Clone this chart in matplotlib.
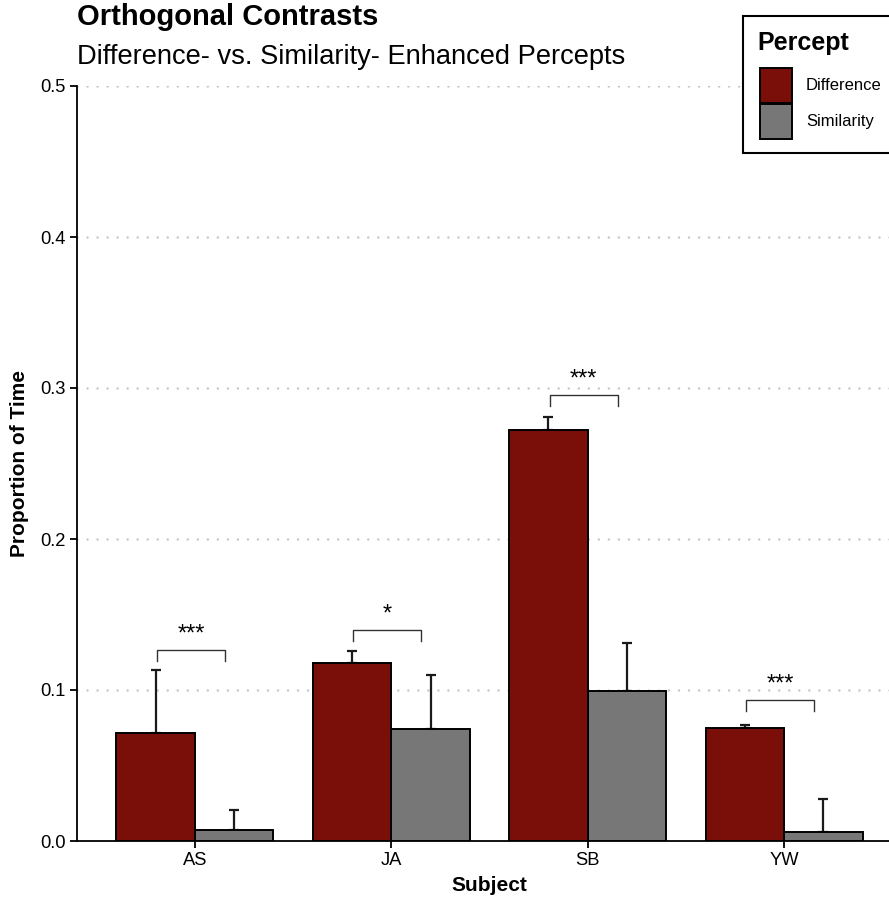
import matplotlib
matplotlib.use("Agg")
import matplotlib.pyplot as plt
from matplotlib.patches import Rectangle

plt.rcParams['font.family'] = ['Liberation Sans', 'DejaVu Sans']

# Data
subjects = ["AS", "JA", "SB", "YW"]
percepts = ["Difference", "Similarity"]
difference_mean = [0.0715, 0.118, 0.272, 0.0748]
difference_err = [0.0415, 0.008, 0.009, 0.002]
similarity_mean = [0.0073, 0.074, 0.0993, 0.006]
similarity_err = [0.0132, 0.036, 0.0317, 0.0218]
sig_labels = ["***", "*", "***", "***"]
sig_heights = [0.1265, 0.140, 0.2955, 0.0935]

colors = {"Difference": "#7a0f0a", "Similarity": "#777777"}

W, H = 889, 900
fig = plt.figure(figsize=(W / 100, H / 100), dpi=100)
ax = fig.add_axes([77 / W, 59 / H, 825 / W, 755 / H])


def fx(px):
    return px / W


def fy(py):
    return 1 - py / H


x = list(range(len(subjects)))
w = 0.4
xd = [i - w / 2 for i in x]
xs = [i + w / 2 for i in x]

# error bars (upper half only), drawn under the bars
for xp, m, e in zip(xd + xs, difference_mean + similarity_mean,
                    difference_err + similarity_err):
    ax.errorbar([xp], [m], yerr=[[0], [e]], fmt="none", ecolor="#1a1a1a",
                elinewidth=1.6, capsize=3.8, capthick=1.6, zorder=2)

ax.bar(xd, difference_mean, width=w, color=colors["Difference"],
       edgecolor="black", linewidth=1.4, zorder=3)
ax.bar(xs, similarity_mean, width=w, color=colors["Similarity"],
       edgecolor="black", linewidth=1.4, zorder=3)

# significance brackets
leg = 0.0073
for i, (lab, h) in enumerate(zip(sig_labels, sig_heights)):
    x0, x1 = i - 0.193, i + 0.153
    ax.plot([x0, x0, x1, x1], [h - leg, h, h, h - leg], color="#333333",
            lw=1.0, zorder=4, solid_joinstyle="round")
    ax.text((x0 + x1) / 2, h + 0.006, lab, ha="center", va="baseline",
            fontsize=17, color="black")

ax.set_xlim(-0.6, 3.6)
ax.set_ylim(0, 0.5)
ax.set_yticks([0.0, 0.1, 0.2, 0.3, 0.4, 0.5])
ax.set_yticklabels(["0.0", "0.1", "0.2", "0.3", "0.4", "0.5"])
ax.set_xticks(x)
ax.set_xticklabels(subjects)

for yv in [0.1, 0.2, 0.3, 0.4, 0.5]:
    ax.axhline(yv, color="#c6c6c6", lw=1.8, ls=(0, (0.01, 4.0)), zorder=1,
               dash_capstyle="round")

for s in ["top", "right"]:
    ax.spines[s].set_visible(False)
for s in ["left", "bottom"]:
    ax.spines[s].set_linewidth(1.3)
    ax.spines[s].set_color("black")
ax.tick_params(axis="both", direction="out", length=5, width=1.3,
               labelsize=13.2, colors="black", pad=3)

ax.set_xlabel("Subject", fontsize=15, fontweight="bold", labelpad=5)
ax.set_ylabel("Proportion of Time", fontsize=15, fontweight="bold", labelpad=8)

fig.text(fx(77), fy(17), "Orthogonal Contrasts", fontsize=21,
         fontweight="bold", va="center", ha="left")
fig.text(fx(77), fy(57), "Difference- vs. Similarity- Enhanced Percepts",
         fontsize=19.6, va="center", ha="left")

# legend box, placed in the top-right corner of the figure
fig.add_artist(Rectangle((fx(743), fy(153)), fx(160), 137 / H,
                         transform=fig.transFigure, facecolor="white",
                         edgecolor="black", linewidth=1.5, zorder=5))
fig.text(fx(757), fy(43), "Percept", fontsize=18, fontweight="bold",
         va="center", ha="left", zorder=6)
key_tops = [68, 104]
for p, top in zip(percepts, key_tops):
    fig.add_artist(Rectangle((fx(760), fy(top + 34.5)), 32 / W, 34.5 / H,
                             transform=fig.transFigure, facecolor=colors[p],
                             edgecolor="black", linewidth=1.4, zorder=6))
    fig.text(fx(806), fy(top + 17.5), p, fontsize=12, va="center",
             ha="left", zorder=6)

fig.savefig("out.png", dpi=100)
